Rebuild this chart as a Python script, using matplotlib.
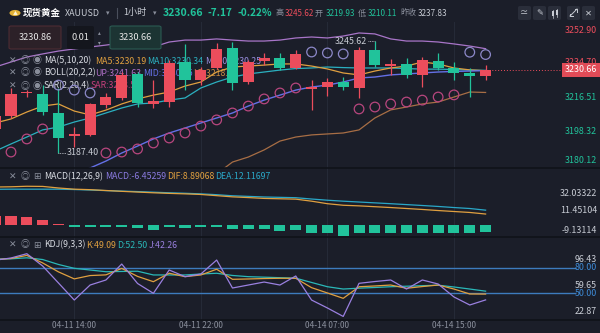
import numpy as np
import matplotlib.pyplot as plt
from matplotlib import transforms
from matplotlib.patches import FancyBboxPatch, Rectangle, Circle
from matplotlib.lines import Line2D

plt.rcParams['font.family'] = ['Noto Sans CJK SC', 'DejaVu Sans']

# XAUUSD 1h, 04-11 09:00 .. 04-14 17:00 (the first bar sits just off the left edge)
opens = [3200.0, 3206.6, 3218.4, 3217.9, 3208.4, 3196.3, 3196.8, 3212.4, 3216.0, 3228.5, 3212.9,
         3213.9, 3234.7, 3225.4, 3231.6, 3242.0, 3224.3, 3235.2, 3236.8, 3231.6, 3220.7,
         3221.7, 3224.3, 3221.2, 3240.9, 3232.6, 3233.7, 3228.0, 3235.2, 3231.6, 3229.0, 3227.4]
highs = [3208.0, 3221.2, 3220.2, 3222.7, 3221.2, 3200.9, 3213.4, 3218.6, 3229.5, 3229.5, 3225.3,
         3235.7, 3244.0, 3232.1, 3244.6, 3245.0, 3235.5, 3239.4, 3239.4, 3240.9, 3225.3,
         3226.4, 3226.9, 3242.5, 3245.62, 3236.3, 3236.8, 3237.3, 3239.4, 3234.7, 3231.6, 3233.1]
lows = [3198.0, 3205.6, 3216.5, 3207.2, 3187.4, 3190.5, 3196.2, 3210.8, 3215.0, 3211.3, 3210.8,
        3211.3, 3220.1, 3222.7, 3231.0, 3220.1, 3223.5, 3233.1, 3230.5, 3231.0, 3209.7,
        3217.0, 3220.1, 3216.0, 3232.1, 3228.0, 3226.4, 3221.7, 3230.5, 3225.3, 3216.5, 3225.3]
closes = [3206.5, 3218.1, 3218.8, 3208.9, 3195.4, 3197.2, 3212.9, 3216.5, 3227.9, 3213.4, 3214.4,
          3234.2, 3225.4, 3230.5, 3241.5, 3223.8, 3234.7, 3236.8, 3231.6, 3238.9, 3221.7,
          3224.3, 3221.7, 3240.9, 3233.1, 3233.7, 3228.0, 3235.7, 3231.6, 3229.0, 3227.4, 3230.66]

ma5 = [3203.0, 3205.1, 3208.7, 3211.8, 3212.9, 3209.2, 3207.2, 3209.7, 3212.9, 3215.5, 3217.5,
       3219.1, 3222.2, 3224.3, 3229.5, 3232.1, 3232.6, 3233.1, 3233.7, 3233.7, 3232.6,
       3231.1, 3229.0, 3228.0, 3230.0, 3231.6, 3232.6, 3234.7, 3233.7, 3231.6, 3230.6, 3230.19]
ma10 = [3188.4, 3192.1, 3195.7, 3199.4, 3200.9, 3203.5, 3205.6, 3208.2, 3210.8, 3212.9, 3213.4,
        3214.9, 3216.0, 3221.2, 3224.3, 3226.9, 3228.5, 3229.5, 3230.5, 3231.3, 3231.6,
        3232.1, 3231.8, 3231.6, 3231.6, 3231.6, 3231.3, 3231.0, 3231.0, 3230.8, 3230.5, 3230.34]
# MA20 and the BOLL middle band are the same series
boll_mid = [3157.8, 3161.4, 3165.0, 3168.7, 3172.3, 3176.0, 3179.6, 3183.2, 3187.4, 3191.0, 3194.7,
            3197.8, 3200.4, 3203.0, 3205.6, 3208.2, 3211.8, 3214.9, 3217.5, 3220.1, 3221.7,
            3222.7, 3224.3, 3226.4, 3226.9, 3228.0, 3228.5, 3229.0, 3229.5, 3229.8, 3230.0, 3230.25]
boll_up = [3232.1, 3234.7, 3237.3, 3238.9, 3240.4, 3241.5, 3242.5, 3243.5, 3244.6, 3243.0, 3242.5,
           3245.1, 3246.1, 3246.1, 3246.7, 3246.1, 3245.6, 3245.6, 3246.1, 3247.2, 3247.7,
           3247.2, 3248.2, 3249.8, 3249.3, 3246.7, 3245.6, 3245.6, 3245.1, 3244.1, 3243.0, 3241.63]
boll_lb = [np.nan] * 14 + [3176.5, 3182.7, 3185.3, 3189.0, 3193.6, 3195.7, 3196.8, 3197.3,
                           3197.8, 3199.4, 3205.6, 3209.8, 3211.3, 3212.9, 3213.9, 3216.5,
                           3219.1, 3218.87]
sar = [np.nan, 3187.9, 3194.7, 3199.9, 3222.7, 3220.1, 3218.6, 3187.4, 3187.9, 3189.5, 3192.6,
       3195.2, 3197.8, 3201.4, 3204.6, 3208.2, 3211.8, 3215.5, 3218.6, 3221.2, 3239.9,
       3239.4, 3238.9, 3210.3, 3211.3, 3212.9, 3213.9, 3214.9, 3216.5, 3217.6, 3239.8, 3238.58]

dif = [31.4, 31.6, 32.03, 31.9, 30.6, 29.6, 29.2, 28.5, 27.8, 27.2, 26.6,
       26.1, 25.7, 25.2, 24.2, 23.2, 22.6, 21.9, 21.6, 21.3, 19.6,
       17.5, 16.2, 15.7, 15.0, 14.3, 13.5, 12.7, 11.8, 11.0, 10.2, 8.89068]
dea = [29.5, 29.6, 29.6, 29.6, 29.6, 29.3, 28.9, 28.4, 28.0, 27.6, 27.1,
       26.6, 26.2, 25.7, 25.0, 24.1, 23.6, 23.1, 22.8, 22.5, 21.4,
       20.4, 19.6, 18.9, 18.2, 17.5, 16.75, 16.0, 15.2, 14.3, 13.5, 12.11697]
macd_hist = [7.6, 7.4, 6.6, 4.1, 0.3, -2.1, -2.1, -2.1, -1.8, -2.6, -4.4,
             -2.2, -2.5, -2.2, -1.8, -3.8, -3.6, -3.6, -5.0, -4.4, -6.6,
             -7.0, -9.13114, -7.0, -7.0, -7.0, -7.0, -7.0, -7.0, -7.0, -7.0, -6.45259]

k_line = [89.5, 90.8, 94.4, 85.6, 75.1, 66.9, 70.8, 71.6, 79.2, 69.8, 63.6,
          73.5, 69.5, 71.5, 78.2, 66.4, 66.8, 67.3, 67.6, 67.6, 56.6,
          50.4, 44.1, 57.7, 58.6, 59.7, 55.9, 57.9, 59.7, 55.0, 49.2, 49.09]
d_line = [90.1, 90.4, 91.6, 89.6, 83.8, 79.3, 77.3, 75.3, 75.6, 75.9, 71.5,
          71.5, 71.5, 72.6, 73.5, 70.9, 69.5, 68.9, 68.3, 67.7, 62.7,
          57.7, 55.0, 56.0, 56.8, 57.7, 58.3, 58.9, 59.5, 57.4, 55.0, 52.50]
j_line = [88.8, 91.4, 96.43, 82.0, 62.1, 42.1, 59.7, 65.6, 84.3, 61.5, 50.0,
          77.3, 69.5, 72.6, 89.0, 56.2, 59.7, 63.2, 59.7, 70.3, 42.1,
          32.8, 22.87, 61.7, 63.8, 65.6, 55.0, 65.6, 60.9, 45.7, 36.3, 42.26]

tick_idx = [5, 13, 21, 29]
tick_lbl = ['04-11 14:00', '04-11 22:00', '04-14 07:00', '04-14 15:00']

price_lbls = [3252.90, 3234.70, 3216.51, 3198.32, 3180.12]
macd_lbls = [32.03322, 11.45104, -9.13114]
kdj_lbls = [96.43, 59.65, 22.87]

W, H = 600, 333
X0, STEP = -4.82, 15.82       # pixel x of first bar, pixels per bar
BG = '#1b1e29'
GRID = '#252a37'
RED = '#ec4d5c'
GREEN = '#21c39b'
ORANGE = '#e0a040'
CYAN = '#2bb0c0'
BLUE = '#6470e6'
PURPLE = '#9a80e0'
PINK = '#b8467e'
LAV = '#8c88c8'
GREYTXT = '#8a8f9c'
FS = 6.3

fig = plt.figure(figsize=(W / 100, H / 100), dpi=100)
fig.patch.set_facecolor(BG)

idx = np.arange(len(closes))
o, h, l, c = map(np.array, (opens, highs, lows, closes))
up = c >= o
cols = np.where(up, RED, GREEN)


def pane(top, bottom, ylim):
    ax = fig.add_axes([0, 1 - bottom / H, 1, (bottom - top) / H])
    ax.set_xlim(-X0 / STEP, (W - X0) / STEP)
    ax.set_ylim(*ylim)
    ax.axis('off')
    for t in tick_idx:
        ax.axvline(t, color=GRID, lw=0.8, zorder=0)
    ax.px = (top, bottom)
    return ax


def ptxt(ax, x, y, s, **kw):
    top, bottom = ax.px
    kw.setdefault('fontsize', FS)
    kw.setdefault('va', 'center')
    return ax.text(x / W, (bottom - y) / (bottom - top), s, transform=ax.transAxes, **kw)


def right_lbl(ax, v, s, lo, hi, color, **kw):
    tr = transforms.blended_transform_factory(ax.transAxes, ax.transData)
    return ax.text(597 / W, min(max(v, lo), hi), s, transform=tr, ha='right', va='center',
                   color=color, fontsize=6.4, **kw)


def icons(ax, y, third):
    ptxt(ax, 13, y, '✕', color=GREYTXT, ha='center', fontsize=6.5)
    ptxt(ax, 25, y, '◎', color=GREYTXT, ha='center', fontsize=6.5)
    ptxt(ax, 37, y, third, color=GREYTXT, ha='center', fontsize=6.5)


# ---- price pane
ax = pane(22, 168, (3179.6, 3255.5))
ax.vlines(idx, l, h, colors=cols, lw=0.9, zorder=4)
ax.bar(idx, np.maximum(np.abs(c - o), 0.8), bottom=np.minimum(o, c), width=0.7,
       color=cols, linewidth=0, zorder=5)
ax.plot(idx, boll_up, color='#a875c8', lw=0.9, zorder=3)
ax.plot(idx, boll_lb, color='#a86e45', lw=0.9, zorder=3)
ax.plot(idx, ma10, color=CYAN, lw=0.9, zorder=3)
ax.plot(idx, ma5, color=ORANGE, lw=0.9, zorder=3)
ax.plot(idx, boll_mid, color=BLUE, lw=1.0, zorder=3)
sar_a = np.array(sar)
ax.scatter(idx, sar_a, s=48, facecolors='none', edgecolors=np.where(sar_a > c, LAV, PINK),
           linewidths=0.9, zorder=4)

# high / low markers
hi_i = int(np.argmax(h))
lo_i = int(np.argmin(l))
ax.plot([hi_i - 0.45, hi_i], [h[hi_i], h[hi_i]], color='#c8ccd4', lw=0.6, ls=(0, (1, 1)), zorder=6)
ax.text(hi_i - 0.5, h[hi_i], f'{h[hi_i]:.2f}', color='#c8ccd4', fontsize=6.4, ha='right', va='center', zorder=6)
ax.plot([lo_i, lo_i + 0.45], [l[lo_i], l[lo_i]], color='#c8ccd4', lw=0.6, ls=(0, (1, 1)), zorder=6)
ax.text(lo_i + 0.5, l[lo_i], f'{l[lo_i]:.2f}', color='#c8ccd4', fontsize=6.4, ha='left', va='center', zorder=6)

# last price line and tag
last = c[-1]
ax.hlines(last, idx[-1], (565 - X0) / STEP, colors=RED, lw=0.7, linestyles=(0, (1, 2)), zorder=6)
for v in price_lbls:
    right_lbl(ax, v, f'{v:.2f}', 3183.4, 3251.3, RED if v > last else GREEN, zorder=6)
tr = transforms.blended_transform_factory(ax.transAxes, ax.transData)
ax.text(581 / W, last, f'{last:.2f}', transform=tr, ha='center', va='center', color='white',
        fontsize=6.4, zorder=8, bbox=dict(boxstyle='square,pad=0.3', fc='#e14b57', ec='none'))

# indicator legend (drawn under the candles)
for y in (61, 73, 86):
    icons(ax, y, '◉')
ptxt(ax, 44, 61, 'MA(5,10,20)', color='#d8dbe2', zorder=2)
ptxt(ax, 95, 61, f'MA5:{ma5[-1]:.2f}', color=ORANGE, zorder=2)
ptxt(ax, 147, 61, f'MA10:{ma10[-1]:.2f}', color=CYAN, zorder=2)
ptxt(ax, 205, 61, f'MA20:{boll_mid[-1]:.2f}', color='#9a8ee0', zorder=2)
ptxt(ax, 44, 73, 'BOLL(20,2,2)', color='#d8dbe2', zorder=2)
ptxt(ax, 95, 73, f'UP:{boll_up[-1]:.2f}', color='#b070c8', zorder=2)
ptxt(ax, 143, 73, f'MID:{boll_mid[-1]:.2f}', color=BLUE, zorder=2)
ptxt(ax, 193, 73, f'LB:{boll_lb[-1]:.2f}', color='#c88a40', zorder=2)
ptxt(ax, 44, 86, 'SAR(2,20,4)', color='#d8dbe2', zorder=2)
ptxt(ax, 91, 86, f'SAR:{sar[-1]:.2f}', color='#c8407e', zorder=2)

# ---- MACD pane
mx = pane(168, 237, (-10.25, 47.25))
hist = np.array(macd_hist)
mx.bar(idx, hist, width=0.7, color=np.where(hist >= 0, RED, GREEN), linewidth=0, zorder=3)
mx.plot(idx, dea, color='#2aa8c8', lw=0.9, zorder=4)
mx.plot(idx, dif, color=ORANGE, lw=0.9, zorder=4)
icons(mx, 177, '⊞')
ptxt(mx, 44, 177, 'MACD(12,26,9)', color='#d8dbe2')
ptxt(mx, 105, 177, f'MACD:{macd_hist[-1]:.5f}', color='#8a7ae0')
ptxt(mx, 167, 177, f'DIF:{dif[-1]:.5f}', color=ORANGE)
ptxt(mx, 215, 177, f'DEA:{dea[-1]:.5f}', color='#2aa8c8')
for v in macd_lbls:
    right_lbl(mx, v, f'{v:.5f}', -5.0, 26.2, '#c8ccd4')

# ---- KDJ pane
kx = pane(237, 320, (18.7, 116.0))
kx.hlines([80, 50], -X0 / STEP - 1, (576 - X0) / STEP, colors='#3d7bbd', lw=1.0, zorder=2)
kx.plot(idx, d_line, color='#2ab8b8', lw=0.9, zorder=3)
kx.plot(idx, k_line, color=ORANGE, lw=0.9, zorder=3)
kx.plot(idx, j_line, color=PURPLE, lw=0.9, zorder=3)
icons(kx, 245, '⊞')
ptxt(kx, 44, 245, 'KDJ(9,3,3)', color='#d8dbe2')
ptxt(kx, 86, 245, f'K:{k_line[-1]:.2f}', color=ORANGE)
ptxt(kx, 117, 245, f'D:{d_line[-1]:.2f}', color='#2ab8b8')
ptxt(kx, 149, 245, f'J:{j_line[-1]:.2f}', color=PURPLE)
for v in kdj_lbls:
    right_lbl(kx, v, f'{v:.2f}', 28.1, 89.5, '#c8ccd4')
for v in (80, 50):
    right_lbl(kx, v, f'{v:.2f}', 0, 200, '#3d8ad6')

# time axis
for t, s in zip(tick_idx, tick_lbl):
    fig.text((X0 + STEP * t) / W, 1 - 326 / H, s, color=GREYTXT, fontsize=6.0, ha='center', va='center')

# pane separators
for y in (168, 237, 320):
    fig.add_artist(Line2D([0, 1], [1 - y / H] * 2, color='#101219', lw=1.2, transform=fig.transFigure))


def ftxt(x, y, s, **kw):
    kw.setdefault('va', 'center')
    kw.setdefault('fontsize', 6.2)
    kw.setdefault('zorder', 7)
    fig.text(x / W, 1 - y / H, s, **kw)


def fbox(x0, y0, x1, y1, fc, ec='none'):
    fig.add_artist(FancyBboxPatch((x0 / W, 1 - y1 / H), (x1 - x0) / W, (y1 - y0) / H,
                                  boxstyle='round,pad=0,rounding_size=0.004',
                                  transform=fig.transFigure, fc=fc, ec=ec, lw=0.8, zorder=5))


def fline(xs, ys, **kw):
    fig.add_artist(Line2D([x / W for x in xs], [1 - y / H for y in ys],
                          transform=fig.transFigure, zorder=7, **kw))


# header row
fig.add_artist(Circle((15 / W, 1 - 13 / H), 5.5 / W, transform=fig.transFigure, fc='#e2b237', ec='none'))
ftxt(15, 13, '▲', color='#fff4d0', fontsize=3.5, ha='center')
ftxt(23, 13, '现货黄金', color='white', fontsize=6.8, weight='bold')
ftxt(65, 13, 'XAUUSD', color='#c8ccd4', fontsize=6.4)
ftxt(106, 13, '▾', color=GREYTXT, fontsize=5)
fline([117, 117], [8, 18], color='#4a4f5c', lw=0.8)
ftxt(123, 13, '1小时', color='#c8ccd4', fontsize=6.6)
ftxt(153, 13, '▾', color=GREYTXT, fontsize=5)
ftxt(163, 13, '3230.66', color=GREEN, fontsize=7.6, weight='bold')
ftxt(208, 13, '-7.17', color=GREEN, fontsize=7.2, weight='bold')
ftxt(238, 13, '-0.22%', color=GREEN, fontsize=7.2, weight='bold')
ftxt(276, 13, '高', color=GREYTXT, fontsize=5.8)
ftxt(285, 13, '3245.62', color=RED, fontsize=5.8)
ftxt(315, 13, '开', color=GREYTXT, fontsize=5.8)
ftxt(326, 13, '3219.93', color=GREEN, fontsize=5.8)
ftxt(358, 13, '低', color=GREYTXT, fontsize=5.8)
ftxt(368, 13, '3210.11', color=GREEN, fontsize=5.8)
ftxt(400, 13, '昨收', color=GREYTXT, fontsize=5.8)
ftxt(418, 13, '3237.83', color='#c8ccd4', fontsize=5.8)

# toolbar buttons
for x0 in (518, 533, 548, 567, 582):
    fbox(x0, 6, x0 + 13, 20, '#2a2e3a')
ftxt(524.5, 13, '≃', color='#c8ccd4', fontsize=6, ha='center')
ftxt(539.5, 13, '✎', color='#c8ccd4', fontsize=6, ha='center')
for dx, yb, yt in ((-2, 11, 16), (2, 10, 15)):
    fline([554.5 + dx] * 2, [yb - 1.5, yt + 1.5], color='#c8ccd4', lw=0.5)
    fig.add_artist(Rectangle(((553.5 + dx) / W, 1 - yt / H), 2 / W, (yt - yb) / H,
                             transform=fig.transFigure, fc='#c8ccd4', ec='none', zorder=7))
fline([570, 577], [16, 9], color='#c8ccd4', lw=0.7)
fline([570, 570, 572.5], [13.5, 16, 16], color='#c8ccd4', lw=0.7)
fline([574.5, 577, 577], [9, 9, 11.5], color='#c8ccd4', lw=0.7)
ftxt(588.5, 13, '✕', color='#c8ccd4', fontsize=6, ha='center')

# order boxes
fbox(9, 26, 61, 49, '#2c2128', '#4d2c33')
ftxt(35, 38, '3230.86', color='#e6e6e6', ha='center', fontsize=6.6)
fbox(67, 26, 94, 49, '#14161d')
ftxt(80.5, 38, '0.01', color='#e6e6e6', ha='center', fontsize=6.6)
ftxt(99, 33, '▴', color=GREYTXT, ha='center', fontsize=4)
ftxt(99, 43, '▾', color=GREYTXT, ha='center', fontsize=4)
fbox(110, 26, 161, 49, '#1c3433', '#2b5a52')
ftxt(135.5, 38, '3230.66', color='#e6e6e6', ha='center', fontsize=6.6)

fig.savefig('out.png', dpi=100, facecolor=BG)
